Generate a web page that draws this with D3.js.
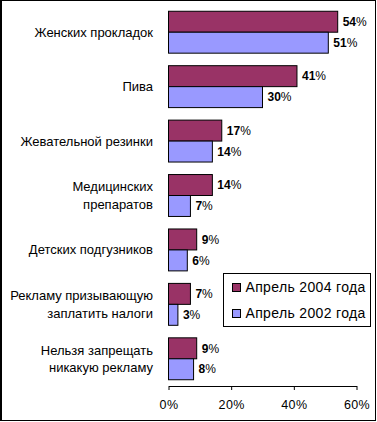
<!DOCTYPE html>
<html>
<head>
<meta charset="utf-8">
<script src="https://cdn.jsdelivr.net/npm/d3@7"></script>
<style>
  body { margin: 0; background: #fff; }
  text { font-family: Arial, "Liberation Sans", sans-serif; }
</style>
</head>
<body>
<div id="chart"></div>
<script>
// Categories (each label may span several lines)
const categories = [
  ["Женских прокладок"],
  ["Пива"],
  ["Жевательной резинки"],
  ["Медицинских", "препаратов"],
  ["Детских подгузников"],
  ["Рекламу призывающую", "заплатить налоги"],
  ["Нельзя запрещать", "никакую рекламу"]
];
const seriesNames = ["Апрель 2004 года", "Апрель 2002 года"];
const values2004 = [54, 41, 17, 14, 9, 7, 9];
const values2002 = [51, 30, 14, 7, 6, 3, 8];
const xTicks = [0, 20, 40, 60];
const colors = ["#993366", "#9999FF"];

const W = 377, H = 422;
const svg = d3.select("#chart").append("svg")
    .attr("width", W)
    .attr("height", H);

// Outer frame
svg.append("rect")
    .attr("x", 0.5).attr("y", 0.5)
    .attr("width", 375).attr("height", 420)
    .attr("fill", "#fff")
    .attr("stroke", "#000")
    .attr("stroke-width", 1);
svg.append("line")
    .attr("x1", 1.5).attr("x2", 1.5).attr("y1", 0).attr("y2", 421)
    .attr("stroke", "#000");

const x = d3.scaleLinear().domain([0, 60]).range([168.5, 356.5]);
const y = d3.scaleBand()
    .domain(d3.range(categories.length))
    .range([5, 386])
    .paddingInner(0.23)
    .paddingOuter(0.115);
const bh = y.bandwidth() / 2;

const data = categories.map((c, i) => ({ label: c, vals: [values2004[i], values2002[i]] }));

const groups = svg.append("g").selectAll("g")
  .data(data)
  .enter().append("g")
    .attr("transform", (d, i) => `translate(0, ${y(i)})`);

// Bars
groups.selectAll("rect")
  .data(d => d.vals)
  .enter().append("rect")
    .attr("x", x(0))
    .attr("y", (d, j) => j * bh)
    .attr("width", d => x(d) - x(0))
    .attr("height", bh)
    .attr("fill", (d, j) => colors[j])
    .attr("stroke", "#000")
    .attr("stroke-width", 1);

// Value labels
const vl = groups.selectAll("text.val")
  .data(d => d.vals)
  .enter().append("text")
    .attr("class", "val")
    .attr("x", d => x(d) + 5)
    .attr("y", (d, j) => j * bh + bh / 2)
    .attr("dy", "0.35em")
    .style("font-size", "12px");
vl.append("tspan").style("font-weight", "bold").text(d => d);
vl.append("tspan").text("%");

// Category labels
groups.append("text")
    .attr("text-anchor", "end")
    .style("font-size", "13px")
    .each(function(d) {
      const n = d.label.length;
      const lh = 17.5;
      d3.select(this).selectAll("tspan")
        .data(d.label)
        .enter().append("tspan")
          .attr("x", 153)
          .attr("y", (t, k) => bh + (k - (n - 1) / 2) * lh)
          .attr("dy", "0.35em")
          .text(t => t);
    });

// X axis
const xAxis = svg.append("g")
    .attr("transform", "translate(0, 386)")
    .call(d3.axisBottom(x).tickValues(xTicks).tickSize(4).tickSizeOuter(0).tickPadding(10)
      .tickFormat(d => d + "%"));
xAxis.select(".domain").attr("stroke", "#000");
xAxis.selectAll(".tick line").attr("stroke", "#000");
xAxis.selectAll(".tick text")
    .style("font-size", "12.5px")
    .style("letter-spacing", "0.4px")
    .style("font-family", "Arial, 'Liberation Sans', sans-serif")
    .attr("fill", "#000");

// Legend
const legend = svg.append("g").attr("transform", "translate(223.5, 273.5)");
legend.append("rect")
    .attr("width", 147).attr("height", 53)
    .attr("fill", "#fff")
    .attr("stroke", "#000");
seriesNames.forEach((s, i) => {
  legend.append("rect")
      .attr("x", 9).attr("y", 10 + i * 26)
      .attr("width", 8).attr("height", 8)
      .attr("fill", colors[i])
      .attr("stroke", "#000");
  legend.append("text")
      .attr("x", 22).attr("y", 14 + i * 26)
      .attr("dy", "0.35em")
      .style("font-size", "14px")
      .style("letter-spacing", "0.35px")
      .text(s);
});
</script>
</body>
</html>
